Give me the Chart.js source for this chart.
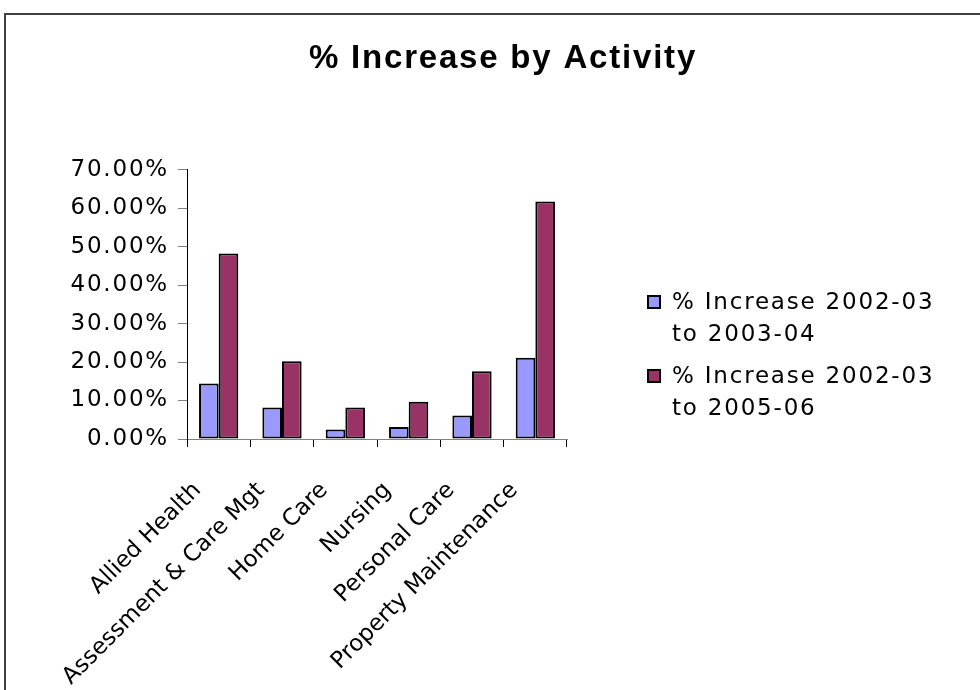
<!DOCTYPE html>
<html>
<head>
<meta charset="utf-8">
<script src="https://cdn.jsdelivr.net/npm/chart.js@4"></script>
<style>
  html, body { margin: 0; padding: 0; background: #fff; overflow: hidden; }
  #chart { display: block; }
</style>
</head>
<body>
<canvas id="chart" width="980" height="690"></canvas>
<script>
// Categories and series (values in percent)
const activities = ['Allied Health', 'Assessment & Care Mgt', 'Home Care', 'Nursing', 'Personal Care', 'Property Maintenance'];
const increaseTo0304 = [14.4, 8.2, 2.5, 3.1, 6.1, 21.1];
const increaseTo0506 = [48.2, 20.2, 8.2, 9.7, 17.6, 61.7];
const seriesLines = [
    ['% Increase 2002-03', 'to 2003-04'],
    ['% Increase 2002-03', 'to 2005-06']
];
const seriesColors = ['#9999ff', '#993366'];

const TEXT_FONT = '"DejaVu Sans", Verdana, sans-serif';
const LETTER_SPACING = '1.8px';

// Wide, spaced lettering for the title, value axis and legend;
// the slanted category names keep normal spacing
const spacing = {
    id: 'spacing',
    beforeUpdate(chart) { chart.ctx.letterSpacing = LETTER_SPACING; },
    beforeDraw(chart) {
        chart.ctx.letterSpacing = LETTER_SPACING;
        const x = chart.scales.x;
        if (!x._plainLabels) {
            const drawLabels = x.drawLabels;
            x.drawLabels = function(area) {
                this.ctx.letterSpacing = '0px';
                drawLabels.call(this, area);
                this.ctx.letterSpacing = LETTER_SPACING;
            };
            x._plainLabels = true;
        }
    }
};

// White page plus the frame around the chart object
const frame = {
    id: 'frame',
    beforeDraw(chart) {
        const ctx = chart.ctx;
        ctx.save();
        ctx.fillStyle = '#fff';
        ctx.fillRect(0, 0, chart.width, chart.height);
        ctx.strokeStyle = '#404040';
        ctx.lineWidth = 2;
        ctx.strokeRect(5, 14, 1400, 1400);
        ctx.restore();
    }
};

// Legend on the right, with two-line labels
const sideLegend = {
    id: 'sideLegend',
    afterDraw(chart) {
        const ctx = chart.ctx;
        ctx.save();
        ctx.letterSpacing = LETTER_SPACING;
        ctx.font = '23px ' + TEXT_FONT;
        ctx.textBaseline = 'middle';
        ctx.textAlign = 'left';
        chart.data.datasets.forEach((ds, i) => {
            const y = 302 + i * 74;
            ctx.fillStyle = ds.backgroundColor;
            ctx.fillRect(648, y - 6, 12, 12);
            ctx.strokeStyle = '#000';
            ctx.lineWidth = 2;
            ctx.strokeRect(648, y - 6, 12, 12);
            ctx.fillStyle = '#000';
            ds.legendLines.forEach((line, j) => ctx.fillText(line, 672, y + 1 + j * 32));
        });
        ctx.restore();
    }
};

new Chart(document.getElementById('chart'), {
    type: 'bar',
    data: {
        labels: activities,
        datasets: [increaseTo0304, increaseTo0506].map((values, i) => ({
            label: seriesLines[i].join(' '),
            legendLines: seriesLines[i],
            data: values,
            backgroundColor: seriesColors[i],
            borderColor: '#000',
            borderWidth: 2,
            borderSkipped: false
        }))
    },
    options: {
        responsive: false,
        animation: false,
        layout: { padding: { left: 26, right: 0, top: 0, bottom: 0 } },
        datasets: { bar: { categoryPercentage: 0.62, barPercentage: 1 } },
        plugins: {
            legend: { display: false },
            tooltip: { enabled: false },
            title: {
                display: true,
                text: '% Increase by Activity',
                color: '#000',
                font: { family: '"Liberation Sans", Arial, sans-serif', size: 33, weight: 'bold', lineHeight: 1.2 },
                padding: { top: 39, bottom: 91 }
            }
        },
        scales: {
            x: {
                grid: { drawOnChartArea: false, tickLength: 8, color: '#000', lineWidth: 1 },
                border: { color: '#808080', width: 1 },
                ticks: {
                    color: '#000',
                    font: { family: TEXT_FONT, size: 23 },
                    minRotation: 45,
                    maxRotation: 45,
                    autoSkip: false,
                    padding: 30,
                    labelOffset: -21
                },
                afterFit(scale) { scale.height = 251; }
            },
            y: {
                min: 0,
                max: 70,
                grid: { drawOnChartArea: false, tickLength: 9, color: '#808080' },
                border: { color: '#000', width: 1 },
                ticks: {
                    stepSize: 10,
                    color: '#000',
                    font: { family: TEXT_FONT, size: 23 },
                    padding: 9,
                    callback: v => v.toFixed(2) + '%'
                },
                afterFit(scale) { scale.width = 161; }
            },
            // empty right-hand axis that keeps room for the legend
            spacer: {
                position: 'right',
                grid: { display: false },
                border: { display: false },
                ticks: { display: false },
                afterFit(scale) { scale.width = 413; }
            }
        }
    },
    plugins: [spacing, frame, sideLegend]
});
</script>
</body>
</html>
